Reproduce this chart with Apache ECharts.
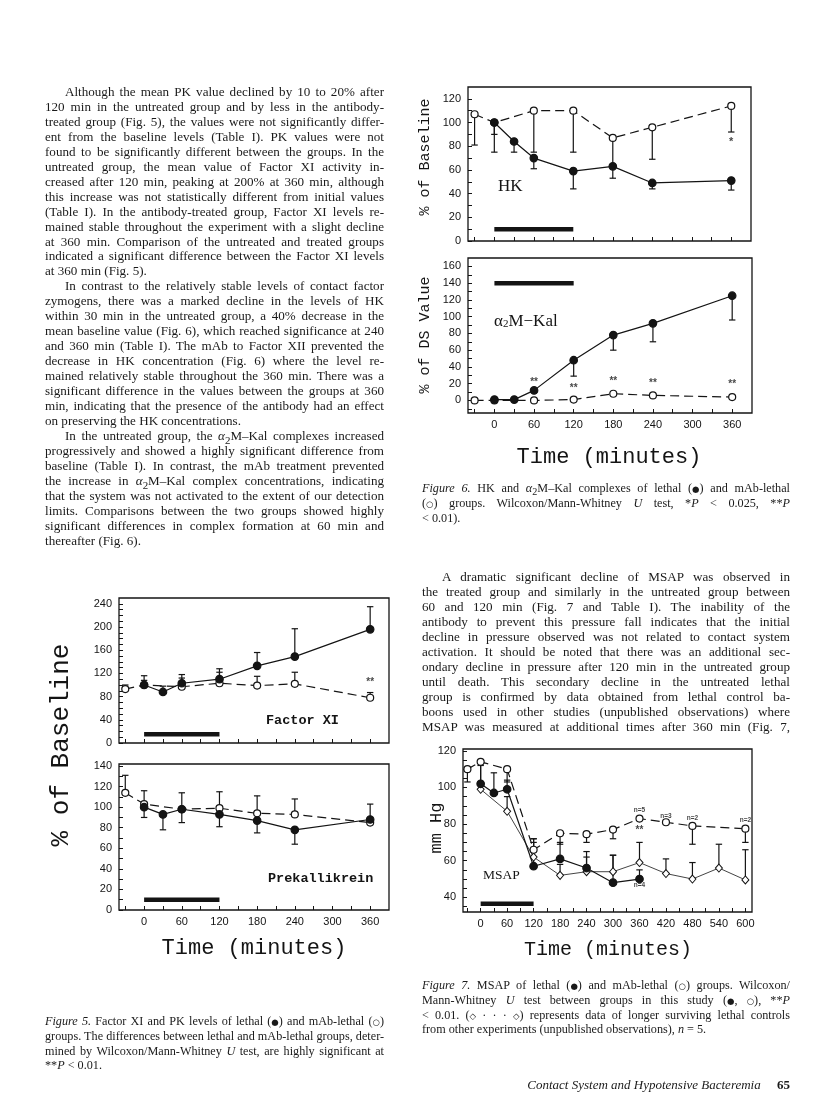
<!DOCTYPE html>
<html><head><meta charset="utf-8">
<script src="https://cdn.jsdelivr.net/npm/echarts@6/dist/echarts.min.js"></script>
<style>
html,body{margin:0;padding:0;background:#fff;}
#page{position:relative;width:816px;height:1104px;overflow:hidden;background:#fff;}
#chart{position:absolute;left:0;top:0;width:816px;height:1104px;}
#text{position:absolute;left:0;top:0;width:816px;height:1104px;pointer-events:none;}
.ln{position:absolute;white-space:nowrap;font-family:"Liberation Serif","Times New Roman",serif;color:#1a1a1a;line-height:16px;}
.sym{font-family:"DejaVu Sans",sans-serif;font-size:0.7em;}
</style></head>
<body><div id="page"><div id="chart"></div><div id="text"></div></div>
<script>
// ---------------- DATA ----------------
// Figure 5 – Factor XI (% of baseline)
const fxiLethalT = [0, 30, 60, 120, 180, 240, 360];
const fxiLethal  = [100, 88, 103, 110, 133, 149, 196];
const fxiLethalErr = [116, 98, 118, 128, 156, 197, 235];
const fxiMabT = [-30, 0, 60, 120, 180, 240, 360];
const fxiMab  = [93, 100, 97, 103, 99, 102, 78];
const fxiMabErr = [100, 108, 112, 122, 115, 122, 87];
// Figure 5 – Prekallikrein
const pkLethalT = [0, 30, 60, 120, 180, 240, 360];
const pkLethal  = [100, 93, 98, 93, 87, 78, 88];
const pkLethalErr = [90, 78, 85, 81, 75, 64, 103];
const pkMabT = [-30, 0, 60, 120, 180, 240, 360];
const pkMab  = [114, 103, 98, 99, 94, 93, 85];
const pkMabErr = [131, 116, 114, 115, 111, 108, null];
// Figure 6 – HK
const hkLethalT = [0, 30, 60, 120, 180, 240, 360];
const hkLethal  = [100, 84, 70, 59, 63, 49, 51];
const hkLethalErr = [75, 75, 61, 44, 53, 44, 43];
const hkMabT = [-30, 0, 60, 120, 180, 240, 360];
const hkMab  = [107, 100, 110, 110, 87, 96, 114];
const hkMabErr = [81, 90, 75, 75, 64, 69, 92];
// Figure 6 – alpha2M-Kal (% of DS value)
const a2mLethalT = [0, 30, 60, 120, 180, 240, 360];
const a2mLethal  = [1, 1, 12, 48, 78, 92, 125];
const a2mLethalErr = [null, null, null, 29, 60, 70, 96];
const a2mMabT = [-30, 0, 60, 120, 180, 240, 360];
const a2mMab  = [0, 0, 0, 1, 8, 6, 4];
// Figure 7 – MSAP (mm Hg)
const msapMabT = [-30, 0, 60, 120, 180, 240, 300, 360, 420, 480, 600];
const msapMab  = [110, 114, 110, 66, 75, 74.5, 77, 83, 81, 79, 77.5];
const msapMabErr = [103, 103, 103, 72, 69, 70, 72, null, null, 69, 70];
const msapLethalT = [0, 30, 60, 120, 180, 240, 300, 360];
const msapLethal  = [102, 97, 99, 57, 61, 56, 48, 50];
const msapLethalErr = [112, 108, 104, 70, 70, 65, 63, 55];
const msapCtrlT = [0, 60, 120, 180, 240, 300, 360, 420, 480, 540, 600];
const msapCtrl  = [99, 87, 62, 52, 54, 54, 59, 53, 50, 56, 49.5];
const msapCtrlErr = [null, 95, 72, 58, 62, 63, 70, 61, 59, 69, 66];
// infusion period (black bar)
const infusion = [0, 120];
// significance / n annotations
const sigHK = [[360, 83.5, '*']];
const sigA2mT = [60, 120, 180, 240, 360];
const sigA2mY = [22, 14, 23, 21, 19];
const sigFXI = [[360, 104, '**']];
const sigMSAP = [[360, 76.5, '**']];
const nLabelT = [360, 420, 480, 600, 360];
const nLabelY = [87.5, 84.5, 83, 82, 46.5];
const nLabelTxt = ['n=5', 'n=3', 'n=2', 'n=2', 'n=4'];
// tick labels
const tickLabelsTime = [0, 60, 120, 180, 240, 300, 360];
const tickLabelsTime7 = [0, 60, 120, 180, 240, 300, 360, 420, 480, 540, 600];

// ---------------- TEXT ----------------
const leftLines = [
 '>Although the mean PK value declined by 10 to 20% after',
 '120 min in the untreated group and by less in the antibody-',
 'treated group (Fig. 5), the values were not significantly differ-',
 'ent from the baseline levels (Table I). PK values were not',
 'found to be significantly different between the groups. In the',
 'untreated group, the mean value of Factor XI activity in-',
 'creased after 120 min, peaking at 200% at 360 min, although',
 'this increase was not statistically different from initial values',
 '(Table I). In the antibody-treated group, Factor XI levels re-',
 'mained stable throughout the experiment with a slight decline',
 'at 360 min. Comparison of the untreated and treated groups',
 'indicated a significant difference between the Factor XI levels',
 'at 360 min (Fig. 5).|',
 '>In contrast to the relatively stable levels of contact factor',
 'zymogens, there was a marked decline in the levels of HK',
 'within 30 min in the untreated group, a 40% decrease in the',
 'mean baseline value (Fig. 6), which reached significance at 240',
 'and 360 min (Table I). The mAb to Factor XII prevented the',
 'decrease in HK concentration (Fig. 6) where the level re-',
 'mained relatively stable throughout the 360 min. There was a',
 'significant difference in the values between the groups at 360',
 'min, indicating that the presence of the antibody had an effect',
 'on preserving the HK concentrations.|',
 '>In the untreated group, the <i>α</i><sub>2</sub>M–Kal complexes increased',
 'progressively and showed a highly significant difference from',
 'baseline (Table I). In contrast, the mAb treatment prevented',
 'the increase in <i>α</i><sub>2</sub>M–Kal complex concentrations, indicating',
 'that the system was not activated to the extent of our detection',
 'limits. Comparisons between the two groups showed highly',
 'significant differences in complex formation at 60 min and',
 'thereafter (Fig. 6).|'
];
const rightLines = [
 '>A dramatic significant decline of MSAP was observed in',
 'the treated group and similarly in the untreated group between',
 '60 and 120 min (Fig. 7 and Table I). The inability of the',
 'antibody to prevent this pressure fall indicates that the initial',
 'decline in pressure observed was not related to contact system',
 'activation. It should be noted that there was an additional sec-',
 'ondary decline in pressure after 120 min in the untreated group',
 'until death. This secondary decline in the untreated lethal',
 'group is confirmed by data obtained from lethal control ba-',
 'boons used in other studies (unpublished observations) where',
 'MSAP was measured at additional times after 360 min (Fig. 7,'
];
const cap6 = [
 '<i>Figure 6.</i> HK and <i>α</i><sub>2</sub>M–Kal complexes of lethal (<span class="sym">●</span>) and mAb-lethal',
 '(<span class="sym">○</span>) groups. Wilcoxon/Mann-Whitney <i>U</i> test, *<i>P</i> &lt; 0.025, **<i>P</i>',
 '&lt; 0.01).|'
];
const cap5 = [
 '<i>Figure 5.</i> Factor XI and PK levels of lethal (<span class="sym">●</span>) and mAb-lethal (<span class="sym">○</span>)',
 'groups. The differences between lethal and mAb-lethal groups, deter-',
 'mined by Wilcoxon/Mann-Whitney <i>U</i> test, are highly significant at',
 '**<i>P</i> &lt; 0.01.|'
];
const cap7 = [
 '<i>Figure 7.</i> MSAP of lethal (<span class="sym">●</span>) and mAb-lethal (<span class="sym">○</span>) groups. Wilcoxon/',
 'Mann-Whitney <i>U</i> test between groups in this study (<span class="sym">●</span>, <span class="sym">○</span>), **<i>P</i>',
 '&lt; 0.01. (<span class="sym">◇</span> · · · <span class="sym">◇</span>) represents data of longer surviving lethal controls',
 'from other experiments (unpublished observations), <i>n</i> = 5.|'
];

const textBox = document.getElementById('text');
function placeLines(lines, x0, x1, yStart, step, indent, fs) {
  lines.forEach((raw, i) => {
    let t = raw, ind = false, end = false;
    if (t[0] === '>') { ind = true; t = t.slice(1); }
    if (t[t.length - 1] === '|') { end = true; t = t.slice(0, -1); }
    const d = document.createElement('div');
    d.className = 'ln';
    d.style.fontSize = fs + 'px';
    d.innerHTML = t;
    const left = x0 + (ind ? indent : 0);
    d.style.left = left + 'px';
    d.style.top = (yStart + i * step - 8) + 'px';
    textBox.appendChild(d);
    if (!end) {
      const w = x1 - left;
      const nat = d.getBoundingClientRect().width;
      const spaces = (d.textContent.match(/ /g) || []).length;
      if (spaces > 0) d.style.wordSpacing = ((w - nat) / spaces) + 'px';
    }
  });
}
placeLines(leftLines, 45, 384, 92, 14.95, 20, 13.1);
placeLines(rightLines, 422, 790, 577, 15.0, 20, 13.1);
placeLines(cap6, 422, 790, 488, 14.8, 0, 12.2);
placeLines(cap5, 45, 384, 1021, 14.8, 0, 12.2);
placeLines(cap7, 422, 790, 985, 14.8, 0, 12.2);
(function(){
  const f = document.createElement('div');
  f.className = 'ln';
  f.style.fontSize = '13px';
  f.innerHTML = '<i>Contact System and Hypotensive Bacteremia</i>&nbsp;&nbsp;&nbsp;&nbsp;&nbsp;<b>65</b>';
  f.style.right = (816 - 790) + 'px';
  f.style.top = (1085 - 8) + 'px';
  textBox.appendChild(f);
})();

// ---------------- CHART ----------------
const INK = '#141414';
const TF = '"Liberation Sans", Arial, sans-serif';
const chart = echarts.init(document.getElementById('chart'), null, {renderer: 'canvas', width: 816, height: 1104});
function range(a, b, s) { const r = []; for (let v = a; v <= b + 1e-9; v += s) r.push(v); return r; }

const gridDefs = [
  {left: 119, top: 598, width: 270, height: 145},  // 0 Fig5 Factor XI
  {left: 119, top: 764, width: 270, height: 146},  // 1 Fig5 PK
  {left: 468, top: 87,  width: 283, height: 154},  // 2 Fig6 HK
  {left: 468, top: 258, width: 284, height: 155},  // 3 Fig6 a2M-Kal
  {left: 463, top: 749, width: 289, height: 163}   // 4 Fig7 MSAP
];
const grids = gridDefs.map(g => Object.assign({show: true, borderColor: INK, borderWidth: 1.3, backgroundColor: 'rgba(0,0,0,0)', outerBoundsMode: 'none'}, g));

const lblStyle = {color: INK, fontFamily: TF, fontSize: 11};
function xAx(gi, min, max, ticks, labels, show) {
  return {type: 'value', gridIndex: gi, min: min, max: max, position: 'bottom',
    axisLine: {show: false, onZero: false}, splitLine: {show: false},
    axisTick: {show: true, inside: true, length: 4, customValues: ticks, lineStyle: {color: INK, width: 1}},
    axisLabel: Object.assign({show: show, customValues: labels, margin: 6}, lblStyle)};
}
function yAx(gi, min, max, ticks, labels) {
  return {type: 'value', gridIndex: gi, min: min, max: max, position: 'left',
    axisLine: {show: false, onZero: false}, splitLine: {show: false},
    axisTick: {show: true, inside: true, length: 4, customValues: ticks, lineStyle: {color: INK, width: 1}},
    axisLabel: Object.assign({customValues: labels, margin: 7}, lblStyle)};
}
const xAxes = [
  xAx(0, -40, 390, range(-30, 360, 30), tickLabelsTime, false),
  xAx(1, -40, 390, range(-30, 360, 30), tickLabelsTime, true),
  xAx(2, -40, 390, range(-30, 360, 30), tickLabelsTime, false),
  xAx(3, -40, 390, range(-30, 360, 30), tickLabelsTime, true),
  xAx(4, -40, 615, range(-30, 600, 30), tickLabelsTime7, true)
];
const yAxes = [
  yAx(0, 0, 250, range(0, 240, 10), range(0, 240, 40)),
  yAx(1, 0, 142, range(0, 140, 10), range(0, 140, 20)),
  yAx(2, 0, 130, range(0, 120, 10), range(0, 120, 20)),
  yAx(3, -15, 170, range(-10, 160, 10), range(0, 160, 20)),
  yAx(4, 32, 121, range(35, 120, 5), range(40, 120, 20))
];

function pairs(t, v) { return t.map((x, i) => [x, v[i]]); }
function lineS(gi, t, v, kind, z) {
  const s = {type: 'line', xAxisIndex: gi, yAxisIndex: gi, data: pairs(t, v), z: z, silent: true,
    animation: false, symbol: 'circle', symbolSize: 7.5, showAllSymbol: true,
    lineStyle: {color: INK, width: 1.2}, itemStyle: {color: INK, borderColor: INK, borderWidth: 1.2}};
  if (kind === 'open') {
    s.symbolSize = 7; s.itemStyle = {color: '#fff', borderColor: INK, borderWidth: 1.2};
    s.lineStyle = {color: INK, width: 1.2, type: [9, 5]};
  } else if (kind === 'diamond') {
    s.symbol = 'diamond'; s.symbolSize = [7, 8];
    s.itemStyle = {color: '#fff', borderColor: INK, borderWidth: 1};
    s.lineStyle = {color: INK, width: 0.8};
  }
  return s;
}
function errS(gi, t, v, e, z) {
  const data = [];
  t.forEach((x, i) => { if (e[i] != null) data.push([x, v[i], e[i]]); });
  return {type: 'custom', xAxisIndex: gi, yAxisIndex: gi, z: z, silent: true, animation: false,
    data: data, encode: {x: 0, y: [1, 2]},
    renderItem: function (params, api) {
      const p0 = api.coord([api.value(0), api.value(1)]);
      const p1 = api.coord([api.value(0), api.value(2)]);
      const hw = 3.2;
      return {type: 'group', children: [
        {type: 'line', shape: {x1: p0[0], y1: p0[1], x2: p1[0], y2: p1[1]}, style: {stroke: INK, lineWidth: 1.2}},
        {type: 'line', shape: {x1: p1[0] - hw, y1: p1[1], x2: p1[0] + hw, y2: p1[1]}, style: {stroke: INK, lineWidth: 1.2}}
      ]};
    }};
}
function barS(gi, y) {
  return {type: 'line', xAxisIndex: gi, yAxisIndex: gi, data: infusion.map(t => [t, y]), symbol: 'none',
    lineStyle: {color: INK, width: 4.5, cap: 'butt'}, z: 1, silent: true, animation: false};
}
function labelS(gi, pts, fs, bold) {
  return {type: 'scatter', xAxisIndex: gi, yAxisIndex: gi, symbolSize: 0.1, silent: true, animation: false, z: 6,
    itemStyle: {color: 'rgba(0,0,0,0)'},
    data: pts.map(p => ({value: [p[0], p[1]], name: p[2]})),
    label: {show: true, position: 'inside', formatter: '{b}', color: INK, fontFamily: TF, fontSize: fs, fontWeight: bold ? 'bold' : 'normal'}};
}

const series = [
  // Fig 5 Factor XI
  errS(0, fxiMabT, fxiMab, fxiMabErr, 2),
  errS(0, fxiLethalT, fxiLethal, fxiLethalErr, 2),
  lineS(0, fxiMabT, fxiMab, 'open', 3),
  lineS(0, fxiLethalT, fxiLethal, 'filled', 4),
  barS(0, 15),
  labelS(0, sigFXI, 10, true),
  // Fig 5 PK
  errS(1, pkMabT, pkMab, pkMabErr, 2),
  errS(1, pkLethalT, pkLethal, pkLethalErr, 2),
  lineS(1, pkMabT, pkMab, 'open', 3),
  lineS(1, pkLethalT, pkLethal, 'filled', 4),
  barS(1, 10),
  // Fig 6 HK
  errS(2, hkMabT, hkMab, hkMabErr, 2),
  errS(2, hkLethalT, hkLethal, hkLethalErr, 2),
  lineS(2, hkMabT, hkMab, 'open', 3),
  lineS(2, hkLethalT, hkLethal, 'filled', 4),
  barS(2, 10),
  labelS(2, sigHK, 11, true),
  // Fig 6 a2M-Kal
  errS(3, a2mLethalT, a2mLethal, a2mLethalErr, 2),
  lineS(3, a2mMabT, a2mMab, 'open', 3),
  lineS(3, a2mLethalT, a2mLethal, 'filled', 4),
  barS(3, 140),
  labelS(3, sigA2mT.map((t, i) => [t, sigA2mY[i], '**']), 10, true),
  // Fig 7 MSAP
  errS(4, msapCtrlT, msapCtrl, msapCtrlErr, 2),
  errS(4, msapMabT, msapMab, msapMabErr, 2),
  errS(4, msapLethalT, msapLethal, msapLethalErr, 2),
  lineS(4, msapCtrlT, msapCtrl, 'diamond', 3),
  lineS(4, msapMabT, msapMab, 'open', 3),
  lineS(4, msapLethalT, msapLethal, 'filled', 4),
  barS(4, 36.5),
  labelS(4, sigMSAP, 10, true),
  labelS(4, nLabelT.map((t, i) => [t, nLabelY[i], nLabelTxt[i]]), 6.5, true)
];

const MONO = '"Liberation Mono", "DejaVu Sans Mono", monospace';
const SERIF = '"Liberation Serif", "Times New Roman", serif';
function gText(x, y, text, font, rot, align) {
  return {type: 'text', x: x, y: y, rotation: rot || 0, silent: true,
    style: {text: text, font: font, fill: INK, align: align || 'center', verticalAlign: 'middle'}};
}
const graphics = [
  gText(61, 745, '% of Baseline', '26px ' + MONO, Math.PI / 2),
  gText(254, 948, 'Time (minutes)', '22px ' + MONO),
  gText(266, 721, 'Factor XI', 'bold 13.5px ' + MONO, 0, 'left'),
  gText(268, 879, 'Prekallikrein', 'bold 13.5px ' + MONO, 0, 'left'),
  gText(425, 157, '% of Baseline', '15px ' + MONO, Math.PI / 2),
  gText(425, 335, '% of DS Value', '15px ' + MONO, Math.PI / 2),
  gText(609, 457, 'Time (minutes)', '22px ' + MONO),
  gText(498, 187, 'HK', '17px ' + SERIF, 0, 'left'),
  {type: 'text', x: 494, y: 320, silent: true,
    style: {text: '{a|α}{s|2}{a|M−Kal}', align: 'left', verticalAlign: 'middle', fill: INK,
      rich: {a: {font: '17px ' + SERIF, fill: INK, verticalAlign: 'bottom', lineHeight: 20},
             s: {font: '11px ' + SERIF, fill: INK, verticalAlign: 'bottom', lineHeight: 14}}}},
  gText(436, 828, 'mm Hg', '17px ' + MONO, Math.PI / 2),
  gText(608, 950, 'Time (minutes)', '20px ' + MONO),
  gText(483, 875, 'MSAP', '13.5px ' + SERIF, 0, 'left')
];

chart.setOption({
  animation: false,
  backgroundColor: '#fff',
  grid: grids,
  xAxis: xAxes,
  yAxis: yAxes,
  series: series,
  graphic: graphics
});
</script>
</body></html>
